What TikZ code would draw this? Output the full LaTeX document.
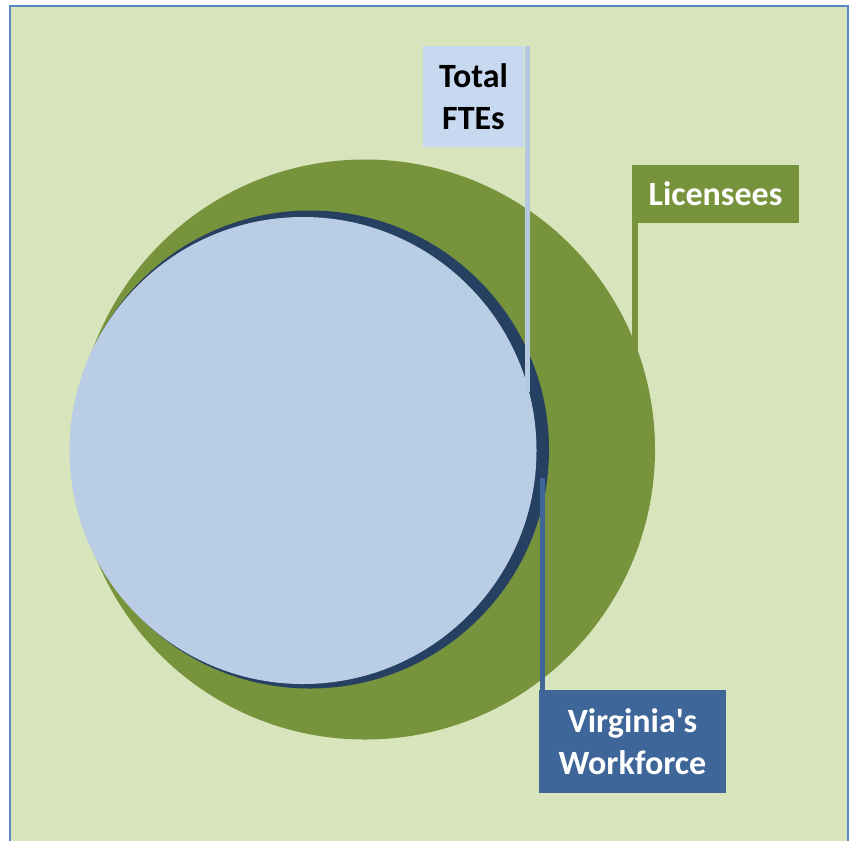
\documentclass[tikz,border=0pt]{standalone}
\usepackage{fontspec}
\setmainfont{Carlito}
\usetikzlibrary{calc}

\definecolor{pagebg}{HTML}{D8E4BC}
\definecolor{frameblue}{HTML}{5B87C6}
\definecolor{licgreen}{HTML}{77933C}
\definecolor{wfnavy}{HTML}{254061}
\definecolor{wfblue}{HTML}{3E6698}
\definecolor{ftecircle}{HTML}{B9CDE5}
\definecolor{ftebox}{HTML}{C6D9F1}
\definecolor{fteline}{HTML}{B4C8E2}

\tikzset{
  tag/.style={rectangle, inner sep=0pt, align=center, font=\bfseries\fontsize{34}{42}\selectfont},
  leader/.style={line width=6pt}
}

\begin{document}
\begin{tikzpicture} [x=1pt, y=-1pt]
\useasboundingbox (0,0) rectangle (853,841);
\fill[pagebg] (10,6) rectangle (848,841);
\draw[frameblue, line width=2pt] (10,841)--(10,6)--(848,6)--(848,841);

\fill[licgreen] (365,449.5) circle (290);
\fill[wfnavy] (310,449.5) circle (239);
\fill[ftecircle] (303,450.5) circle (233.5);

\node[tag, fill=ftebox, text=black, minimum width=101, minimum height=101] (ftes) at (473.5,96.5) {Total\\FTEs};
\node[tag, fill=licgreen, text=white, minimum width=167, minimum height=58] (lic) at (715.5,194) {Licensees};
\node[tag, fill=wfblue, text=white, minimum width=187, minimum height=103] (wf) at (632.5,741.5) {Virginia\textquotesingle s\\Workforce};

\coordinate (ftes tip) at (527,392);
\coordinate (lic tip) at (635,350);
\coordinate (wf tip) at (542,478);
\draw[leader, fteline, line width=5pt] (ftes tip |- ftes.north) -- (ftes tip);
\draw[leader, licgreen] (lic tip |- lic.north) -- (lic tip);
\draw[leader, wfblue, line width=5pt] (wf tip |- wf.south) -- (wf tip);
\end{tikzpicture}
\end{document}
